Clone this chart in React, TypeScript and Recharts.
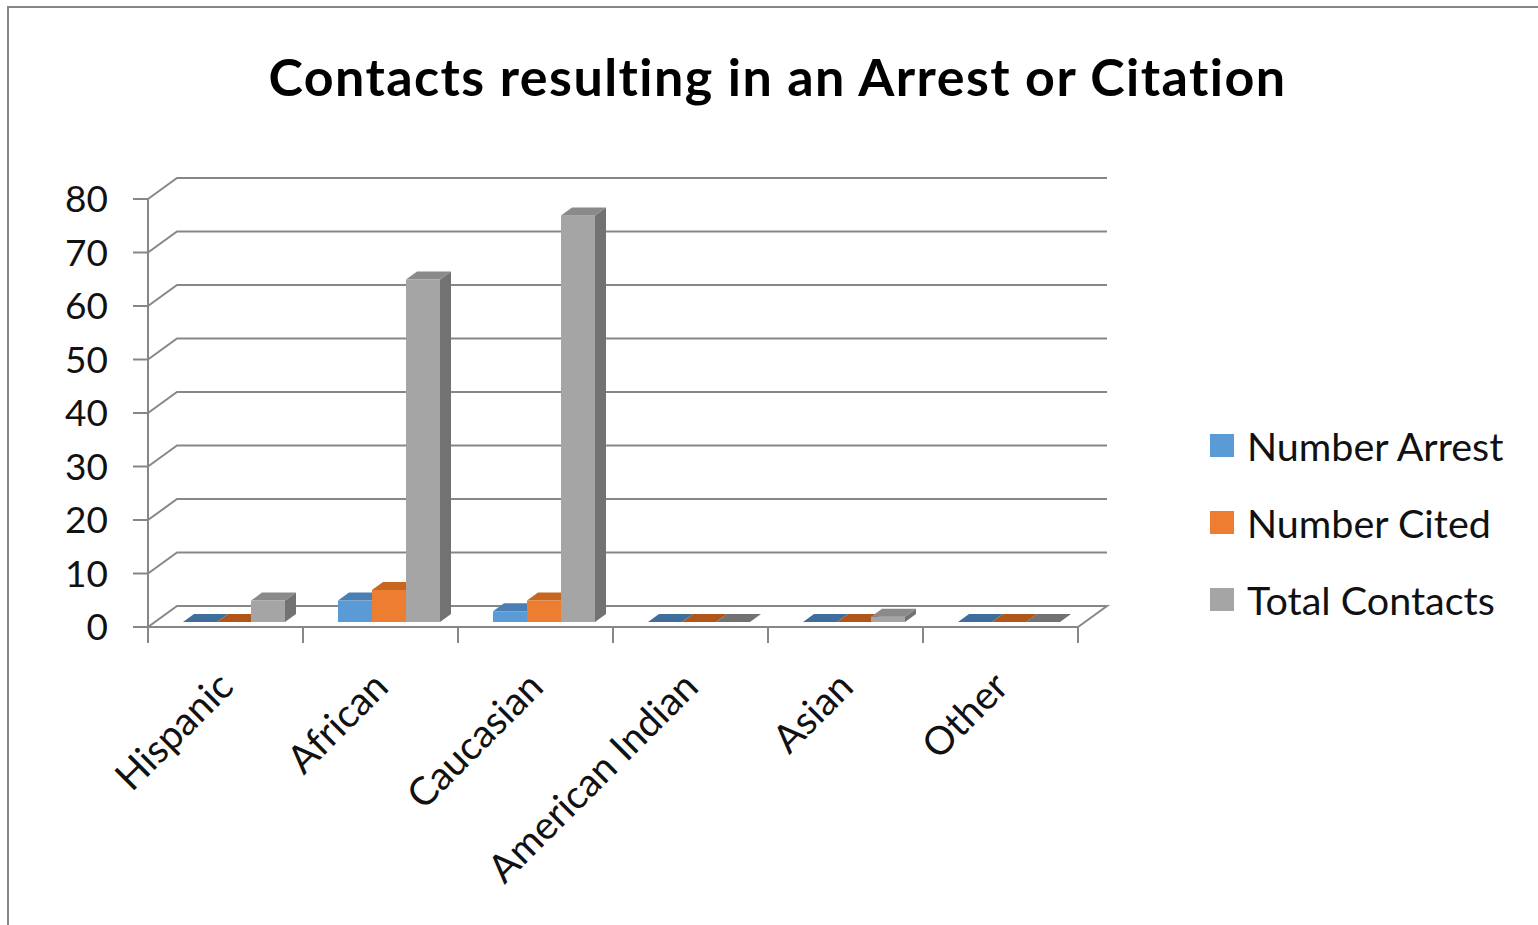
import React from 'react'
import { BarChart, Bar, XAxis, YAxis, CartesianGrid } from 'recharts'

const categories = ['Hispanic', 'African', 'Caucasian', 'American Indian', 'Asian', 'Other']
const numberArrest = [0, 4, 2, 0, 0, 0]
const numberCited = [0, 6, 4, 0, 0, 0]
const totalContacts = [4, 64, 76, 0, 1, 0]
const yTicks = [0, 10, 20, 30, 40, 50, 60, 70, 80]

const series = [
  { key: 'arrest', name: 'Number Arrest', fill: '#5b9bd5', top: '#4a7fb5', side: '#3f6e9c' },
  { key: 'cited', name: 'Number Cited', fill: '#ed7d31', top: '#c8651f', side: '#b0561a' },
  { key: 'total', name: 'Total Contacts', fill: '#a5a5a5', top: '#8a8a8a', side: '#727272' },
]

const data = categories.map((c, i) => ({
  name: c,
  arrest: numberArrest[i],
  cited: numberCited[i],
  total: totalContacts[i],
}))

// layout (page pixels)
const W = 1538
const H = 925
const PLOT_LEFT = 148
const PLOT_RIGHT = 1078
const PLOT_TOP = 199
const PLOT_BOTTOM = 627
const BAND = (PLOT_RIGHT - PLOT_LEFT) / categories.length

// fake 3d: back wall offset and bar depth
const WALL_DX = 29
const WALL_DY = -21
const BAR_SX = 8
const BAR_SY = -5
const BAR_DX = 11
const BAR_DY = -8

const lineColor = '#878787'
const textColor = '#111'

function gridLine(props: any) {
  const { x1, y1, x2 } = props
  const bx = x1 + WALL_DX
  const by = y1 + WALL_DY
  let d = `M${x1},${y1} L${bx},${by} L${x2 + WALL_DX},${by}`
  if (Math.abs(y1 - PLOT_BOTTOM) < 1) d += ` L${x2},${y1}`
  return <path key={props.key} d={d} fill="none" stroke={lineColor} strokeWidth={2} />
}

function makeShape(s: typeof series[number]) {
  return (props: any) => {
    const { x, y, width, height } = props
    const fx = x + BAR_SX
    const fy = y + BAR_SY
    const w = width
    const h = Math.max(height, 0)
    return (
      <g>
        {h > 0 && <rect x={fx} y={fy} width={w} height={h} fill={s.fill} />}
        {h > 0 && (
          <polygon
            points={`${fx + w},${fy} ${fx + w + BAR_DX},${fy + BAR_DY} ${fx + w + BAR_DX},${fy + h + BAR_DY} ${fx + w},${fy + h}`}
            fill={s.side}
          />
        )}
        <polygon
          points={`${fx},${fy} ${fx + w},${fy} ${fx + w + BAR_DX},${fy + BAR_DY} ${fx + BAR_DX},${fy + BAR_DY}`}
          fill={h > 0 ? s.top : s.side}
        />
      </g>
    )
  }
}

function CategoryTick(props: any) {
  const { x, y, payload, index } = props
  const tx = x + 10
  const ty = y + 62
  return (
    <g>
      <line x1={x - BAND / 2} y1={y} x2={x - BAND / 2} y2={y + 16} stroke={lineColor} strokeWidth={2} />
      {index === categories.length - 1 && (
        <line x1={x + BAND / 2} y1={y} x2={x + BAND / 2} y2={y + 16} stroke={lineColor} strokeWidth={2} />
      )}
      <text
        x={tx}
        y={ty}
        textAnchor="end"
        fontSize={39}
        fill={textColor}
        transform={`rotate(-45, ${tx}, ${ty})`}
      >
        {payload.value}
      </text>
    </g>
  )
}

export default function App() {
  return (
    <div
      style={{
        position: 'absolute', left: 0, top: 0, width: W, height: H, overflow: 'hidden',
        background: '#fff', fontFamily: 'Lato, "Open Sans", sans-serif',
      }}
    >
      <div
        style={{
          position: 'absolute', left: 7, top: 6, width: W + 20, height: H + 20,
          border: `2px solid ${lineColor}`,
        }}
      />
      <div
        style={{
          position: 'absolute', left: 0, width: 1555, top: 44, textAlign: 'center',
          fontSize: 52, fontWeight: 700, color: '#000', lineHeight: '64px', letterSpacing: 1.45,
        }}
      >
        Contacts resulting in an Arrest or Citation
      </div>

      <div style={{ position: 'absolute', left: 0, top: 0 }}>
        <BarChart
          width={W}
          height={H}
          data={data}
          barSize={34}
          barGap={0}
          margin={{ top: PLOT_TOP, right: W - PLOT_RIGHT, bottom: H - PLOT_BOTTOM - 200, left: PLOT_LEFT - 60 }}
        >
          <CartesianGrid vertical={false} horizontal={gridLine} />
          <XAxis
            dataKey="name"
            height={200}
            interval={0}
            tickSize={0}
            tickMargin={0}
            tickLine={false}
            axisLine={{ stroke: lineColor, strokeWidth: 2 }}
            tick={<CategoryTick />}
          />
          <YAxis
            width={60}
            domain={[0, 80]}
            ticks={yTicks}
            tickSize={15}
            tickMargin={25}
            tick={{ fontSize: 37, fill: textColor }}
            tickLine={{ stroke: lineColor, strokeWidth: 2 }}
            axisLine={{ stroke: lineColor, strokeWidth: 2 }}
          />
          {series.map(s => (
            <Bar key={s.key} dataKey={s.key} name={s.name} fill={s.fill} shape={makeShape(s)} isAnimationActive={false} />
          ))}
        </BarChart>
      </div>

      <div style={{ position: 'absolute', left: 1210, top: 407 }}>
        {series.map(s => (
          <div key={s.key} style={{ display: 'flex', alignItems: 'center', height: 77 }}>
            <span style={{ width: 24, height: 23, background: s.fill, marginRight: 13 }} />
            <span style={{ fontSize: 39.5, color: textColor }}>{s.name}</span>
          </div>
        ))}
      </div>
    </div>
  )
}
